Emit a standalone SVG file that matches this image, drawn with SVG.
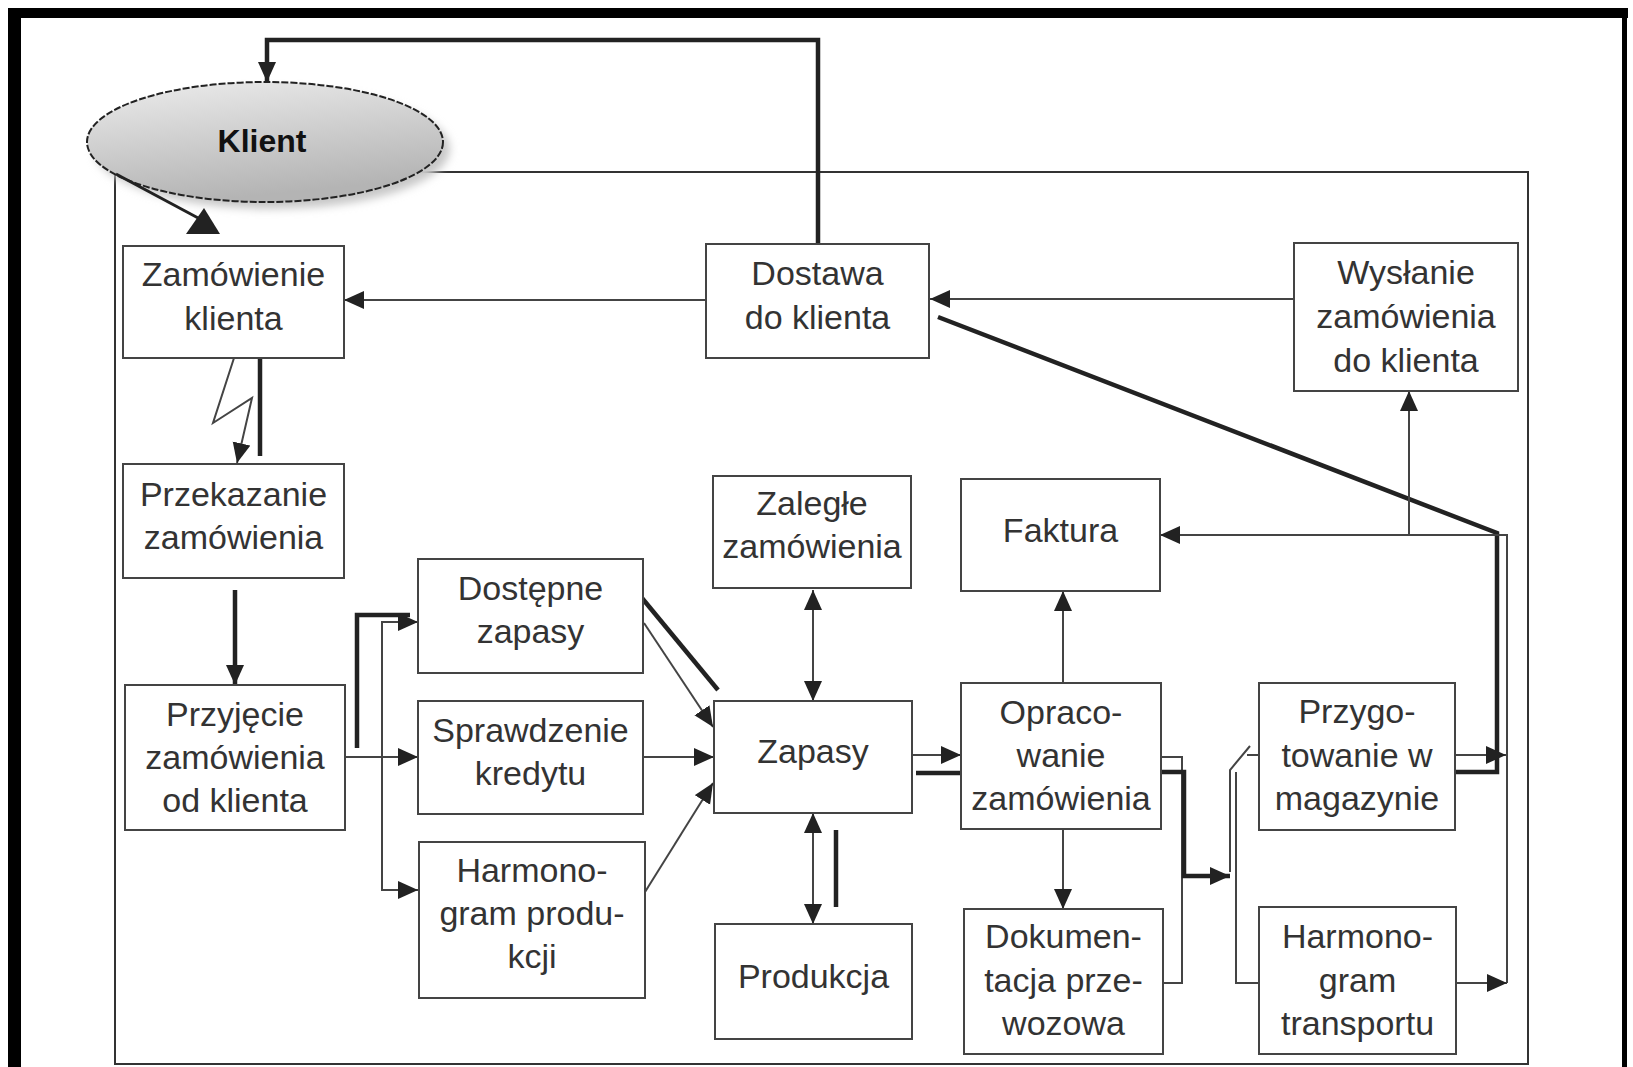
<svg xmlns="http://www.w3.org/2000/svg" width="1633" height="1067" viewBox="0 0 1633 1067">
<style>
.box{fill:#fff;stroke:#444;stroke-width:2}
.lbl{font-family:"Liberation Sans",Arial,sans-serif;font-size:34px;fill:#333;text-anchor:middle}
.thin{fill:none;stroke:#444;stroke-width:2}
.thick{fill:none;stroke:#222;stroke-width:4.5}
.frame{fill:#000}
</style>
<defs>
<marker id="arr" markerUnits="userSpaceOnUse" markerWidth="22" markerHeight="20" refX="20" refY="9" orient="auto">
<path d="M0,0 L20,9 L0,18 z" fill="#222"/>
</marker>
<marker id="arrS" markerUnits="userSpaceOnUse" markerWidth="22" markerHeight="20" refX="20" refY="9" orient="auto-start-reverse">
<path d="M0,0 L20,9 L0,18 z" fill="#222"/>
</marker>
<linearGradient id="gk" x1="0" y1="0" x2="0.3" y2="1">
<stop offset="0" stop-color="#ececec"/>
<stop offset="1" stop-color="#b4b4b4"/>
</linearGradient>
<filter id="sh" x="-20%" y="-20%" width="140%" height="140%">
<feGaussianBlur stdDeviation="4"/>
</filter>
</defs>
<rect width="1633" height="1067" fill="#fff"/>
<!-- outer frame -->
<rect class="frame" x="8" y="8" width="13" height="1059"/>
<rect class="frame" x="8" y="8" width="1620" height="10"/>
<rect class="frame" x="1622" y="8" width="5" height="1059"/>
<!-- inner frame -->
<rect x="115" y="172" width="1413" height="892" fill="none" stroke="#333" stroke-width="2"/>

<g id="klient">
<ellipse cx="272" cy="149" rx="178" ry="60" fill="#c8c8c8" filter="url(#sh)"/>
<ellipse cx="265" cy="142" rx="178" ry="60" fill="url(#gk)" stroke="#222" stroke-width="2" stroke-dasharray="7 2"/>
<text x="262" y="152" font-family="'Liberation Sans',Arial,sans-serif" font-size="32" font-weight="bold" fill="#111" text-anchor="middle">Klient</text>
</g>

<g id="connectors">
<path class="thick" d="M818,244 V40 H267 V82" marker-end="url(#arr)"/>
<path d="M116,174 L200,219" fill="none" stroke="#222" stroke-width="3"/>
<polygon points="186,234 220,234 204,208" fill="#222"/>
<path class="thin" d="M706,300 H344" marker-end="url(#arr)"/>
<path class="thin" d="M1294,299 H930" marker-end="url(#arr)"/>
<path class="thick" d="M938,317 L1497,533 V772 H1440"/>
<path class="thin" d="M1455,755 H1506" marker-end="url(#arr)"/>
<path class="thin" d="M1507,983 V535 H1160" marker-end="url(#arr)"/>
<path class="thin" d="M1409,535 V391" marker-end="url(#arr)"/>
<path class="thin" d="M1456,983 H1507" marker-end="url(#arr)"/>
<path class="thin" d="M234,358 L213,423 L252,398 L237,463" marker-end="url(#arr)"/>
<path class="thick" d="M260,350 V456"/>
<path class="thick" d="M235,590 V685" marker-end="url(#arr)"/>
<path class="thin" d="M345,757 H418" marker-end="url(#arr)"/>
<path class="thin" d="M418,622 H382 V890 H418" marker-end="url(#arr)"/>
<path class="thin" d="M382,622 H418" marker-end="url(#arr)"/>
<path class="thick" d="M357,748 V615 H410"/>
<path class="thin" d="M644,623 L713,727" marker-end="url(#arr)"/>
<path class="thick" d="M637,592 L718,690"/>
<path class="thin" d="M643,757 H714" marker-end="url(#arr)"/>
<path class="thin" d="M645,892 L713,783" marker-end="url(#arr)"/>
<path class="thin" d="M813,590 V701" marker-start="url(#arrS)" marker-end="url(#arr)"/>
<path class="thin" d="M813,813 V924" marker-start="url(#arrS)" marker-end="url(#arr)"/>
<path class="thick" d="M836,830 V907" stroke-width="5"/>
<path class="thin" d="M912,755 H961" marker-end="url(#arr)"/>
<path class="thick" d="M916,773 H961"/>
<path class="thin" d="M1063,683 V591" marker-end="url(#arr)"/>
<path class="thin" d="M1063,829 V909" marker-end="url(#arr)"/>
<path class="thin" d="M1161,757 H1182 V983 H1163"/>
<path class="thick" d="M1135,772 H1184 V876 H1230" marker-end="url(#arr)"/>
<path class="thin" d="M1230,872 V770 L1250,746"/>
<path class="thin" d="M1259,755 H1247"/>
<path class="thin" d="M1236,772 V983 H1259"/>
</g>

<g id="n-zamowienie-klienta">
<rect class="box" x="123" y="246" width="221" height="112"/>
<text class="lbl" x="233.5" y="286">Zamówienie</text>
<text class="lbl" x="233.5" y="330">klienta</text>
</g>
<g id="n-dostawa">
<rect class="box" x="706" y="244" width="223" height="114"/>
<text class="lbl" x="817.5" y="285">Dostawa</text>
<text class="lbl" x="817.5" y="329">do klienta</text>
</g>
<g id="n-wyslanie">
<rect class="box" x="1294" y="243" width="224" height="148"/>
<text class="lbl" x="1406" y="284">Wysłanie</text>
<text class="lbl" x="1406" y="328">zamówienia</text>
<text class="lbl" x="1406" y="372">do klienta</text>
</g>
<g id="n-przekazanie">
<rect class="box" x="123" y="464" width="221" height="114"/>
<text class="lbl" x="233.5" y="506">Przekazanie</text>
<text class="lbl" x="233.5" y="549">zamówienia</text>
</g>
<g id="n-przyjecie">
<rect class="box" x="125" y="685" width="220" height="145"/>
<text class="lbl" x="235" y="726">Przyjęcie</text>
<text class="lbl" x="235" y="769">zamówienia</text>
<text class="lbl" x="235" y="812">od klienta</text>
</g>
<g id="n-dostepne">
<rect class="box" x="418" y="559" width="225" height="114"/>
<text class="lbl" x="530.5" y="600">Dostępne</text>
<text class="lbl" x="530.5" y="643">zapasy</text>
</g>
<g id="n-sprawdzenie">
<rect class="box" x="418" y="701" width="225" height="113"/>
<text class="lbl" x="530.5" y="742">Sprawdzenie</text>
<text class="lbl" x="530.5" y="785">kredytu</text>
</g>
<g id="n-harm-prod">
<rect class="box" x="419" y="842" width="226" height="156"/>
<text class="lbl" x="532" y="882">Harmono-</text>
<text class="lbl" x="532" y="925">gram produ-</text>
<text class="lbl" x="532" y="968">kcji</text>
</g>
<g id="n-zalegle">
<rect class="box" x="713" y="476" width="198" height="112"/>
<text class="lbl" x="812" y="515">Zaległe</text>
<text class="lbl" x="812" y="558">zamówienia</text>
</g>
<g id="n-faktura">
<rect class="box" x="961" y="479" width="199" height="112"/>
<text class="lbl" x="1060.5" y="542">Faktura</text>
</g>
<g id="n-zapasy">
<rect class="box" x="714" y="701" width="198" height="112"/>
<text class="lbl" x="813" y="763">Zapasy</text>
</g>
<g id="n-opracowanie">
<rect class="box" x="961" y="683" width="200" height="146"/>
<text class="lbl" x="1061" y="724">Opraco-</text>
<text class="lbl" x="1061" y="767">wanie</text>
<text class="lbl" x="1061" y="810">zamówienia</text>
</g>
<g id="n-produkcja">
<rect class="box" x="715" y="924" width="197" height="115"/>
<text class="lbl" x="813.5" y="988">Produkcja</text>
</g>
<g id="n-dokumentacja">
<rect class="box" x="964" y="909" width="199" height="145"/>
<text class="lbl" x="1063.5" y="948">Dokumen-</text>
<text class="lbl" x="1063.5" y="992">tacja prze-</text>
<text class="lbl" x="1063.5" y="1035">wozowa</text>
</g>
<g id="n-przygotowanie">
<rect class="box" x="1259" y="683" width="196" height="147"/>
<text class="lbl" x="1357" y="723">Przygo-</text>
<text class="lbl" x="1357" y="767">towanie w</text>
<text class="lbl" x="1357" y="810">magazynie</text>
</g>
<g id="n-harm-transp">
<rect class="box" x="1259" y="907" width="197" height="147"/>
<text class="lbl" x="1357.5" y="948">Harmono-</text>
<text class="lbl" x="1357.5" y="992">gram</text>
<text class="lbl" x="1357.5" y="1035">transportu</text>
</g>
</svg>
